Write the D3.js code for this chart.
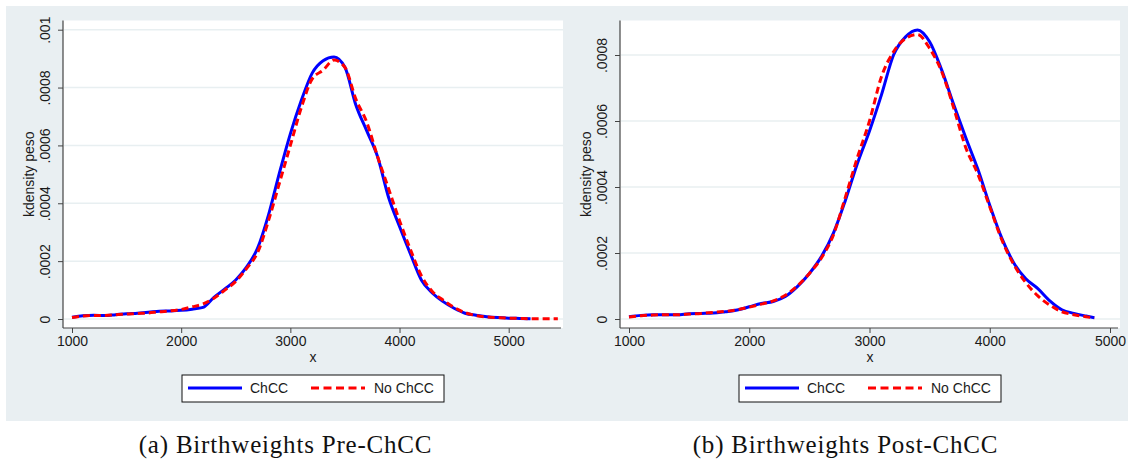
<!DOCTYPE html>
<html>
<head>
<meta charset="utf-8">
<script src="https://cdn.jsdelivr.net/npm/d3@7"></script>
<style>
  body { margin: 0; background: #fff; }
  svg { display: block; }
  text { font-family: "Liberation Sans", Arial, sans-serif; fill: #1a1a1a; }
  .caption { font-family: "Liberation Serif", "DejaVu Serif", serif; fill: #111; }
</style>
</head>
<body>
<div id="chart"></div>
<script>
// Birthweights Pre-ChCC (kernel density of peso)
const preChccX = [1000,1100,1200,1300,1400,1500,1600,1700,1800,1900,2000,2100,2200,2300,2400,2500,2600,2700,2800,2900,3000,3100,3200,3300,3400,3500,3600,3700,3800,3900,4000,4100,4200,4300,4400,4500,4600,4700,4800,4900,5000,5100,5200];
const preChccY = [.000006,.000011,.000013,.000012,.000015,.000018,.00002,.000023,.000027,.000028,.00003,.000034,.00004,.000075,.000104,.000135,.00018,.000245,.00036,.000505,.00064,.000755,.00085,.000893,.000906,.00087,.00074,.00065,.00056,.00042,.00032,.000225,.000135,.00009,.00006,.000037,.00002,.000013,.000008,.000005,.000003,.000002,.000001];
const preNoX = [1000,1100,1200,1300,1400,1500,1600,1700,1800,1900,2000,2100,2200,2300,2400,2500,2600,2700,2800,2900,3000,3100,3200,3300,3400,3500,3600,3700,3800,3900,4000,4100,4200,4300,4400,4500,4600,4700,4800,4900,5000,5100,5200,5300,5400,5450];
const preNoY = [.000005,.00001,.000012,.000012,.000015,.000017,.000019,.000021,.000025,.000028,.000033,.000042,.000052,.000072,.0001,.00013,.000175,.00023,.00034,.00047,.0006,.00073,.00083,.00086,.000895,.00087,.00076,.00068,.00056,.00045,.00034,.00024,.00015,.000095,.000065,.00004,.000022,.000012,.000007,.000005,.000003,.000002,.000001,.000001,.000001,.000001];

// Birthweights Post-ChCC
const postX = [1000,1100,1200,1300,1400,1500,1600,1700,1800,1900,2000,2100,2200,2300,2400,2500,2600,2700,2800,2900,3000,3100,3200,3300,3400,3500,3600,3700,3800,3900,4000,4100,4200,4300,4400,4500,4600,4700,4800,4870];
const postChccY = [.000007,.000011,.000013,.000013,.000013,.000016,.000017,.000018,.000022,.000027,.000037,.000047,.000053,.000068,.000098,.000138,.000189,.00026,.00036,.000472,.00057,.00068,.0008,.000855,.000876,.00084,.000755,.00065,.00055,.000455,.000345,.000245,.00017,.000122,.000092,.000055,.000028,.000017,.000009,.000004];
const postNoY = [.000006,.00001,.000012,.000013,.000013,.000015,.000017,.00002,.000023,.000028,.000036,.000045,.000055,.000072,.0001,.000138,.000185,.000255,.00037,.00049,.0006,.000735,.00081,.00085,.000862,.00082,.00075,.00064,.00052,.00044,.00034,.00024,.000165,.00011,.00007,.000042,.000022,.000013,.000007,.000003];

const xTicks = [1000, 2000, 3000, 4000, 5000];
const preYTicks = [0, .0002, .0004, .0006, .0008, .001];
const postYTicks = [0, .0002, .0004, .0006, .0008];
const seriesNames = ["ChCC", "No ChCC"];
const captions = ["(a) Birthweights Pre-ChCC", "(b) Birthweights Post-ChCC"];

const W = 1128, H = 459;
const svg = d3.select("#chart").append("svg").attr("width", W).attr("height", H);

const panels = [
  { bg: [6, 563], plot: [63, 563], xr: [72, 508.7], yr: [319, 29.7], ymax: .001, ticks: preYTicks,
    series: [{x: preChccX, y: preChccY}, {x: preNoX, y: preNoY}], caption: captions[0] },
  { bg: [563, 1128], plot: [620, 1120], xr: [629, 1110], yr: [319, 55], ymax: .0008, ticks: postYTicks,
    series: [{x: postX, y: postChccY}, {x: postX, y: postNoY}], caption: captions[1] }
];

const plotTop = 20.5, plotBottom = 328;
const styles = [
  { color: "#0000ff", dash: null },
  { color: "#ff0000", dash: "7,4" }
];
const fmt = d => d === 0 ? "0" : String(d).replace(/^0/, "");

panels.forEach(p => {
  const g = svg.append("g");

  // graph region
  g.append("rect").attr("x", p.bg[0]).attr("y", 6)
    .attr("width", p.bg[1] - p.bg[0]).attr("height", 415)
    .attr("fill", "#e9eff2");
  g.append("rect").attr("x", p.plot[0]).attr("y", plotTop)
    .attr("width", p.plot[1] - p.plot[0]).attr("height", plotBottom - plotTop)
    .attr("fill", "#fff");

  const x = d3.scaleLinear().domain([1000, 5000]).range(p.xr);
  const y = d3.scaleLinear().domain([0, p.ymax]).range(p.yr);

  // gridlines
  g.selectAll("line.grid").data(p.ticks).enter().append("line")
    .attr("class", "grid")
    .attr("x1", p.plot[0] + 1).attr("x2", p.plot[1])
    .attr("y1", d => y(d)).attr("y2", d => y(d))
    .attr("stroke", "#e8eff1").attr("stroke-width", 1.5);

  // lines
  p.series.forEach((s, i) => {
    const pts = s.x.map((v, k) => [v, s.y[k]]);
    g.append("path")
      .attr("d", d3.line().x(d => x(d[0])).y(d => y(d[1])).curve(d3.curveMonotoneX)(pts))
      .attr("fill", "none")
      .attr("stroke", styles[i].color)
      .attr("stroke-width", 3)
      .attr("stroke-dasharray", styles[i].dash);
  });

  // y axis
  const ya = g.append("g").attr("transform", `translate(${p.plot[0]},0)`)
    .call(d3.axisLeft(y).tickValues(p.ticks).tickFormat(fmt).tickSize(5).tickSizeOuter(0));
  ya.select(".domain").remove();
  ya.selectAll(".tick line").attr("stroke", "#444");
  ya.selectAll(".tick text")
    .attr("transform", "rotate(-90)")
    .attr("x", 0).attr("y", -13).attr("dy", 0)
    .attr("text-anchor", "middle")
    .style("font-size", "14px");

  // x axis
  const xa = g.append("g").attr("transform", `translate(0,${plotBottom})`)
    .call(d3.axisBottom(x).tickValues(xTicks).tickFormat(d3.format("d")).tickSize(5).tickSizeOuter(0));
  xa.select(".domain").remove();
  xa.selectAll(".tick line").attr("stroke", "#444");
  xa.selectAll(".tick text").style("font-size", "14px").attr("y", 8);

  // axis lines
  g.append("line").attr("x1", p.plot[0]).attr("x2", p.plot[0])
    .attr("y1", plotTop).attr("y2", plotBottom).attr("stroke", "#444").attr("stroke-width", 1.2);
  g.append("line").attr("x1", p.plot[0]).attr("x2", p.plot[1] - 2)
    .attr("y1", plotBottom).attr("y2", plotBottom).attr("stroke", "#444").attr("stroke-width", 1.2);

  // titles
  const cx = (p.plot[0] + p.plot[1]) / 2;
  g.append("text").attr("x", cx).attr("y", 362).attr("text-anchor", "middle")
    .style("font-size", "14px").text("x");
  g.append("text")
    .attr("transform", `translate(${p.plot[0] - 29.5},${(plotTop + plotBottom) / 2}) rotate(-90)`)
    .attr("text-anchor", "middle").style("font-size", "14px").text("kdensity peso");

  // legend
  const lx = cx - 131;
  const lg = g.append("g").attr("transform", `translate(${lx},375)`);
  lg.append("rect").attr("width", 262).attr("height", 27)
    .attr("fill", "#fff").attr("stroke", "#111").attr("stroke-width", 1);
  const items = [{ x1: 6, x2: 60, tx: 68 }, { x1: 129, x2: 183, tx: 192 }];
  items.forEach((it, i) => {
    lg.append("line").attr("x1", it.x1).attr("x2", it.x2).attr("y1", 13).attr("y2", 13)
      .attr("stroke", styles[i].color).attr("stroke-width", 3)
      .attr("stroke-dasharray", styles[i].dash ? "8,4.5" : null);
    lg.append("text").attr("x", it.tx).attr("y", 18).style("font-size", "14px").text(seriesNames[i]);
  });

  // caption
  const bcx = (p.bg[0] + p.bg[1]) / 2 + (p.bg[0] < 100 ? 1 : 0);
  g.append("text").attr("class", "caption").attr("x", bcx).attr("y", 453)
    .attr("text-anchor", "middle").style("font-size", "25px")
    .style("letter-spacing", "0.8px").text(p.caption);
});
</script>
</body>
</html>
